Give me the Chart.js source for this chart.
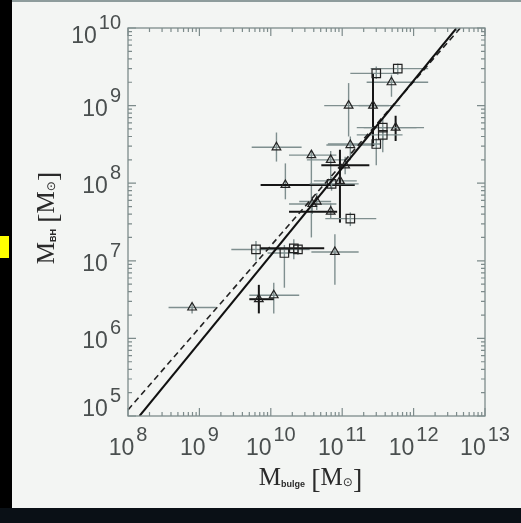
<!DOCTYPE html>
<html>
<head>
<meta charset="utf-8">
<script src="https://cdn.jsdelivr.net/npm/chart.js@4.4.1/dist/chart.umd.min.js"></script>
<style>
  html, body { margin: 0; padding: 0; background: #000; }
  #page { position: relative; width: 521px; height: 523px; background: #000; overflow: hidden; }
  #panel { position: absolute; left: 12px; top: 0; width: 509px; height: 508px; background: #f3f5f3; border-top: 2px solid #8e9c9c; box-sizing: border-box; }
  #strip { position: absolute; left: 0; top: 508px; width: 521px; height: 15px; background: #0a1016; }
  #mark { position: absolute; left: 0; top: 236px; width: 9px; height: 22px; background: #ffff00; }
  #wrap { position: absolute; left: 0; top: 0; width: 521px; height: 523px; }
</style>
</head>
<body>
<div id="page">
  <div id="panel"></div>
  <div id="strip"></div>
  <div id="mark"></div>
  <div id="wrap"><canvas id="mbh"></canvas></div>
</div>
<script>
// axis ranges (solar masses)
const xDecades = [8, 9, 10, 11, 12, 13];
const yDecades = [5, 6, 7, 8, 9, 10];

// triangles: bulge mass, black hole mass, error ranges
const triX   = [7.9e8, 6.8e9, 1.1e10, 1.2e10, 1.6e10, 3.7e10, 6.9e10, 1.23e11, 2.7e11, 4.9e11, 1.3e11, 3.8e10, 4.4e10, 6.9e10, 7.9e10, 1.1e11, 9.3e10, 5.6e11];
const triY   = [2.5e6, 3.2e6, 3.6e6, 2.9e8, 9.5e7, 2.3e8, 2.0e8, 1.0e9, 1.0e9, 2.0e9, 3.1e8, 5.4e7, 5.8e7, 4.3e7, 1.3e7, 1.7e8, 1.07e8, 5.2e8];
const triXLo = [3.7e8, 5.0e9, 5.0e9, 5.4e9, 7.2e9, 1.8e10, 3.2e10, 5.6e10, 1.7e11, 2.2e11, 6.0e10, 1.8e10, 2.5e10, 1.8e10, 3.7e10, 5.1e10, 4.0e10, 2.0e11];
const triXHi = [1.7e9, 1.1e10, 2.5e10, 2.7e10, 1.5e11, 8.3e10, 1.3e11, 6.5e11, 4.5e11, 1.6e12, 2.9e11, 8.3e10, 7.0e10, 8.5e10, 1.7e11, 2.4e11, 1.6e11, 1.4e12];
const triYLo = [2.1e6, 2.1e6, 2.1e6, 1.9e8, 6.2e7, 2.0e7, 8.7e7, 4.0e8, 3.0e8, 1.3e9, 2.0e8, 4.0e7, 4.5e7, 3.5e7, 4.9e6, 1.3e8, 3.1e7, 3.5e8];
const triYHi = [2.8e6, 4.9e6, 5.2e6, 4.5e8, 1.8e8, 2.6e8, 2.6e8, 1.95e9, 2.6e9, 2.5e9, 4.0e8, 6.0e7, 7.5e7, 5.5e7, 2.2e7, 2.2e8, 2.7e8, 7.4e8];
const triBold = ['', 'xy', '', '', 'x', '', '', '', 'y', '', '', '', '', 'x', '', 'x', 'y', 'y'];

// squares
const sqX   = [6.2e9, 1.55e10, 2.1e10, 2.4e10, 1.3e11, 3.0e11, 6.0e11, 3.7e11, 3.7e11, 3.0e11, 7.1e10];
const sqY   = [1.4e7, 1.26e7, 1.45e7, 1.4e7, 3.5e7, 2.6e9, 3.0e9, 5.2e8, 4.2e8, 3.2e8, 9.8e7];
const sqXLo = [2.8e9, 9.0e9, 7.1e9, 1.3e10, 5.8e10, 1.3e11, 2.5e11, 1.6e11, 1.6e11, 6.3e10, 3.5e10];
const sqXHi = [1.35e10, 2.5e10, 5.6e10, 3.5e10, 3.0e11, 6.0e11, 1.6e12, 1.1e12, 7.0e11, 3.5e11, 1.7e11];
const sqYLo = [1.0e7, 4.5e6, 1.05e7, 1.2e7, 2.8e7, 2.2e9, 2.5e9, 3.5e8, 2.5e8, 1.7e8, 8.0e7];
const sqYHi = [1.8e7, 1.6e7, 1.9e7, 1.65e7, 4.2e7, 3.2e9, 3.5e9, 7.0e8, 5.0e8, 3.8e8, 1.2e8];
const sqBold = ['', '', 'x', '', '', '', '', '', '', '', ''];

// fitted relations, read at their ends
const fitX  = [1.45e8, 4.0e12];
const fitY  = [1.0e5, 1.0e10];
const fit2X = [1.0e8, 4.5e12];
const fit2Y = [1.2e5, 1.0e10];

const pts = (xs, ys) => xs.map((x, i) => ({ x: x, y: ys[i] }));

const errorBars = {
  id: 'errorBars',
  beforeDatasetsDraw(chart) {
    const { ctx, chartArea: a, scales: { x, y } } = chart;
    ctx.save();
    ctx.beginPath();
    ctx.rect(a.left, a.top, a.right - a.left, a.bottom - a.top);
    ctx.clip();
    const draw = (xs, ys, xlo, xhi, ylo, yhi, bold) => {
      for (let pass = 0; pass < 2; pass++) {
        xs.forEach((v, i) => {
          const px = x.getPixelForValue(v), py = y.getPixelForValue(ys[i]);
          const bx = bold[i].includes('x'), by = bold[i].includes('y');
          if ((pass === 1) === bx) {
            ctx.strokeStyle = bx ? '#151515' : '#7f8f8f';
            ctx.lineWidth = bx ? 2 : 1.4;
            ctx.beginPath();
            ctx.moveTo(x.getPixelForValue(xlo[i]), py);
            ctx.lineTo(x.getPixelForValue(xhi[i]), py);
            ctx.stroke();
          }
          if ((pass === 1) === by) {
            ctx.strokeStyle = by ? '#151515' : '#7f8f8f';
            ctx.lineWidth = by ? 2 : 1.4;
            ctx.beginPath();
            ctx.moveTo(px, y.getPixelForValue(ylo[i]));
            ctx.lineTo(px, y.getPixelForValue(yhi[i]));
            ctx.stroke();
          }
        });
      }
    };
    draw(triX, triY, triXLo, triXHi, triYLo, triYHi, triBold);
    draw(sqX, sqY, sqXLo, sqXHi, sqYLo, sqYHi, sqBold);
    ctx.restore();
  }
};

function richText(ctx, parts, cx, cy) {
  let w = 0;
  parts.forEach(p => { ctx.font = p.font; w += ctx.measureText(p.t).width; });
  let xx = cx - w / 2;
  parts.forEach(p => {
    ctx.font = p.font;
    ctx.fillText(p.t, xx, cy + (p.dy || 0));
    xx += ctx.measureText(p.t).width;
  });
}

const frame = {
  id: 'frame',
  afterDraw(chart) {
    const { ctx, chartArea: a, scales: { x, y } } = chart;
    ctx.save();
    ctx.strokeStyle = '#7d8b8b';
    ctx.lineWidth = 1.3;
    ctx.strokeRect(a.left, a.top, a.right - a.left, a.bottom - a.top);

    // log ticks on all four sides
    ctx.lineWidth = 1.2;
    ctx.beginPath();
    xDecades.forEach(d => {
      for (let m = 1; m <= 9; m++) {
        const v = m * Math.pow(10, d);
        if (v > Math.pow(10, xDecades[xDecades.length - 1])) break;
        const px = x.getPixelForValue(v);
        const len = m === 1 ? 8 : 4;
        ctx.moveTo(px, a.bottom); ctx.lineTo(px, a.bottom - len);
        ctx.moveTo(px, a.top); ctx.lineTo(px, a.top + len);
      }
    });
    yDecades.forEach(d => {
      for (let m = 1; m <= 9; m++) {
        const v = m * Math.pow(10, d);
        if (v > Math.pow(10, yDecades[yDecades.length - 1])) break;
        const py = y.getPixelForValue(v);
        const len = m === 1 ? 8 : 4;
        ctx.moveTo(a.left, py); ctx.lineTo(a.left + len, py);
        ctx.moveTo(a.right, py); ctx.lineTo(a.right - len, py);
      }
    });
    ctx.stroke();

    // tick labels, 10 with a raised exponent
    ctx.fillStyle = '#4a4f4f';
    ctx.textBaseline = 'alphabetic';
    const baseFont = '23px "Liberation Sans"';
    const expFont = '20px "Liberation Sans"';
    xDecades.forEach(d => {
      const px = x.getPixelForValue(Math.pow(10, d));
      ctx.font = baseFont; const bw = ctx.measureText('10').width;
      ctx.font = expFont; const ew = ctx.measureText(String(d)).width;
      const left = px - (bw + 2 + ew) / 2;
      ctx.font = baseFont; ctx.textAlign = 'left';
      ctx.fillText('10', left, a.bottom + 39);
      ctx.font = expFont;
      ctx.fillText(String(d), left + bw + 2, a.bottom + 25);
    });
    yDecades.forEach(d => {
      const py = y.getPixelForValue(Math.pow(10, d));
      const base = Math.min(Math.max(py + 10, a.top + 15), a.bottom);
      ctx.font = expFont; const ew = ctx.measureText(String(d)).width;
      ctx.font = baseFont; const bw = ctx.measureText('10').width;
      const right = a.left - 7;
      ctx.textAlign = 'left';
      ctx.fillText('10', right - ew - 2 - bw, base);
      ctx.font = expFont;
      ctx.fillText(String(d), right - ew, base - 14);
    });

    // axis titles
    ctx.fillStyle = '#2a2a2a';
    ctx.textAlign = 'left';
    const big = '25px "Liberation Serif"';
    const brk = '28px "Liberation Serif"';
    const sub = 'bold 9px "Liberation Sans"';
    const sun = '12px "DejaVu Sans"';
    richText(ctx, [
      { t: 'M', font: big }, { t: 'bulge', font: sub, dy: 2 }, { t: ' ', font: big },
      { t: '[', font: brk, dy: 3 }, { t: 'M', font: big }, { t: '\u2299', font: sun, dy: 1 }, { t: ']', font: brk, dy: 3 }
    ], (a.left + a.right) / 2 + 4, a.bottom + 69);
    ctx.translate(54, (a.top + a.bottom) / 2 - 4);
    ctx.rotate(-Math.PI / 2);
    richText(ctx, [
      { t: 'M', font: big }, { t: 'BH', font: sub, dy: 2 }, { t: ' ', font: big },
      { t: '[', font: brk, dy: 3 }, { t: 'M', font: big }, { t: '\u2299', font: sun, dy: 1 }, { t: ']', font: brk, dy: 3 }
    ], 0, 0);
    ctx.restore();
  }
};

new Chart(document.getElementById('mbh'), {
  type: 'scatter',
  data: {
    datasets: [
      { data: pts(fitX, fitY), showLine: true, borderColor: '#111', borderWidth: 2, pointRadius: 0 },
      { data: pts(fit2X, fit2Y), showLine: true, borderColor: '#222', borderWidth: 1.6, borderDash: [6, 4], pointRadius: 0 },
      { data: pts(triX, triY), pointStyle: 'triangle', pointRadius: 5, borderColor: '#222', borderWidth: 1.2, backgroundColor: 'rgba(0,0,0,0)' },
      { data: pts(sqX, sqY), pointStyle: 'rect', pointRadius: 6, borderColor: '#222', borderWidth: 1.2, backgroundColor: 'rgba(0,0,0,0)' }
    ]
  },
  options: {
    responsive: true,
    maintainAspectRatio: false,
    animation: false,
    layout: { padding: { left: 128, top: 28, right: 36, bottom: 107 } },
    plugins: { legend: { display: false }, tooltip: { enabled: false } },
    scales: {
      x: { type: 'logarithmic', min: 1e8, max: 1e13, display: false },
      y: { type: 'logarithmic', min: 1e5, max: 1e10, display: false }
    }
  },
  plugins: [errorBars, frame]
});
</script>
</body>
</html>
